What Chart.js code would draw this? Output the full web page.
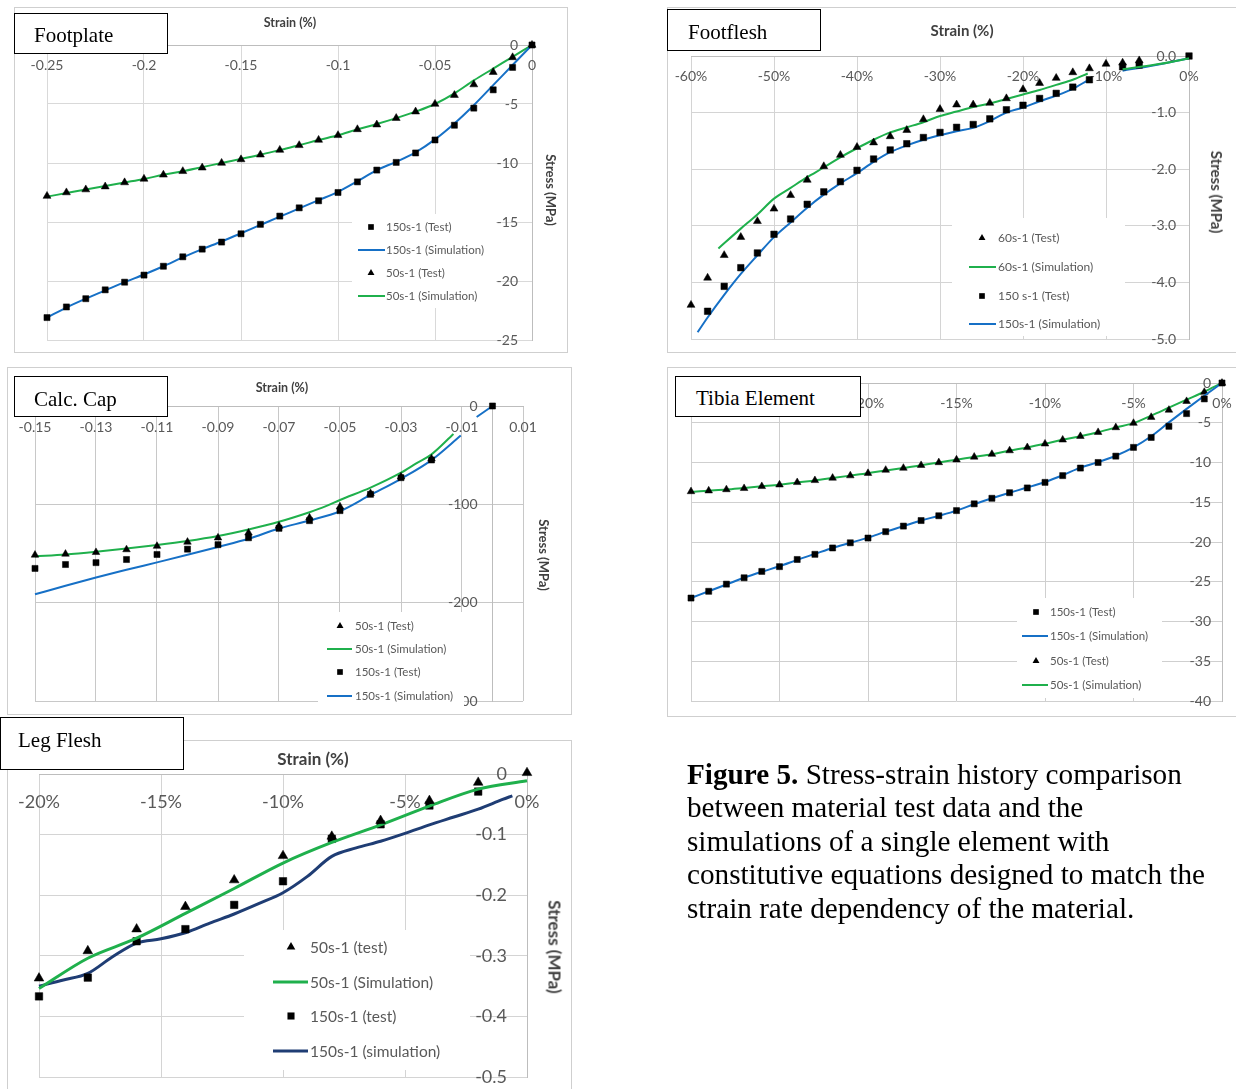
<!DOCTYPE html>
<html>
<head>
<meta charset="utf-8">
<title>Figure 5 - Stress-strain history comparison</title>
<script src="https://cdn.jsdelivr.net/npm/chart.js@4.4.1/dist/chart.umd.min.js"></script>
<style>
    html, body { margin: 0; padding: 0; background: #fff; }
    #page { position: relative; width: 1236px; height: 1089px; overflow: hidden; }
    .panel { position: absolute; border: 1px solid #cfcfcf; box-sizing: border-box; }
    canvas.layer { position: absolute; left: 0; top: 0; }
    .tag {
        position: absolute; box-sizing: border-box; background: #fff; border: 1px solid #000;
        font-family: "Liberation Serif", "Times New Roman", serif; font-size: 21px; line-height: 21px;
        color: #000; white-space: nowrap; overflow: hidden;
    }
    .axis-title {
        position: absolute; font-family: Lato, sans-serif; font-weight: bold; color: #404040;
        white-space: nowrap; transform: translate(-50%, -50%);
    }
    .axis-title.vert { transform: translate(-50%, -50%) rotate(90deg); }
    #caption {
        position: absolute; left: 687px; top: 758px; font-family: "Liberation Serif", "Times New Roman", serif;
        font-size: 29.2px; line-height: 33.4px; color: #000; white-space: nowrap;
    }
</style>
</head>
<body>
<div id="page">
    <div class="panel" style="left:14px;top:7px;width:554px;height:346px"></div>
    <div class="panel" style="left:667px;top:7px;width:580px;height:346px"></div>
    <div class="panel" style="left:7px;top:367px;width:565px;height:348px"></div>
    <div class="panel" style="left:667px;top:367px;width:580px;height:350px"></div>
    <div class="panel" style="left:7px;top:740px;width:565px;height:360px"></div>

    <canvas class="layer" id="footplate" width="1236" height="1089"></canvas>
    <canvas class="layer" id="footflesh" width="1236" height="1089"></canvas>
    <canvas class="layer" id="calccap" width="1236" height="1089"></canvas>
    <canvas class="layer" id="tibia" width="1236" height="1089"></canvas>
    <canvas class="layer" id="legflesh" width="1236" height="1089"></canvas>

    <div class="axis-title" style="left:290px;top:22px;font-size:12.5px">Strain (%)</div>
    <div class="axis-title vert" style="left:551px;top:190px;font-size:13px">Stress (MPa)</div>
    <div class="axis-title" style="left:962px;top:30px;font-size:15px">Strain (%)</div>
    <div class="axis-title vert" style="left:1217px;top:192px;font-size:15px">Stress (MPa)</div>
    <div class="axis-title" style="left:282px;top:387px;font-size:12.5px">Strain (%)</div>
    <div class="axis-title vert" style="left:544px;top:555px;font-size:13px">Stress (MPa)</div>
    <div class="axis-title" style="left:313px;top:758px;font-size:17px">Strain (%)</div>
    <div class="axis-title vert" style="left:555px;top:947px;font-size:17px">Stress (MPa)</div>

    <div class="tag" style="left:14px;top:13px;width:154px;height:41px;padding:11px 0 0 19px">Footplate</div>
    <div class="tag" style="left:667px;top:9px;width:154px;height:42px;padding:12px 0 0 20px">Footflesh</div>
    <div class="tag" style="left:14px;top:376px;width:154px;height:41px;padding:12px 0 0 19px">Calc. Cap</div>
    <div class="tag" style="left:675px;top:376px;width:186px;height:41px;padding:11px 0 0 20px">Tibia Element</div>
    <div class="tag" style="left:0px;top:717px;width:184px;height:53px;padding:12px 0 0 17px">Leg Flesh</div>

    <div id="caption"><b>Figure 5.</b> Stress-strain history comparison<br>between material test data and the<br>simulations of a single element with<br>constitutive equations designed to match the<br>strain rate dependency of the material.</div>
</div>

<script>
// ---- Footplate ----
const fpStrain = [-0.25, -0.24, -0.23, -0.22, -0.21, -0.2, -0.19, -0.18, -0.17, -0.16, -0.15, -0.14, -0.13,
    -0.12, -0.11, -0.1, -0.09, -0.08, -0.07, -0.06, -0.05, -0.04, -0.03, -0.02, -0.01, 0];
const fp150Test = [-23.1, -22.2, -21.5, -20.75, -20.1, -19.5, -18.75, -17.95, -17.3, -16.7, -16.0, -15.2, -14.5,
    -13.8, -13.2, -12.5, -11.6, -10.6, -9.95, -9.15, -8.05, -6.8, -5.35, -3.8, -1.9, 0];
const fp150Sim = [-23.1, -22.25, -21.5, -20.8, -20.1, -19.45, -18.75, -18.0, -17.3, -16.65, -15.95, -15.25, -14.55,
    -13.85, -13.15, -12.45, -11.55, -10.6, -9.9, -9.1, -8.0, -6.65, -5.1, -3.4, -1.7, 0];
const fp50Test = [-12.8, -12.5, -12.25, -12.0, -11.65, -11.35, -11.0, -10.7, -10.4, -10.0, -9.7, -9.3, -8.9,
    -8.5, -8.05, -7.65, -7.15, -6.75, -6.2, -5.65, -5.0, -4.25, -3.35, -2.3, -1.05, 0];
const fp50Sim = [-12.85, -12.55, -12.25, -11.95, -11.65, -11.35, -11.0, -10.7, -10.35, -10.0, -9.65, -9.3, -8.9,
    -8.5, -8.05, -7.65, -7.15, -6.7, -6.2, -5.65, -5.0, -4.1, -3.0, -2.0, -1.0, 0];
const fpStrainTicks = [-0.25, -0.2, -0.15, -0.1, -0.05, 0];
const fpStressTicks = [-25, -20, -15, -10, -5, 0];

// ---- Footflesh (strain in %) ----
const ff60TestStrain = [-60, -58, -56, -54, -52, -50, -48, -46, -44, -42, -40, -38, -36, -34, -32, -30, -28, -26,
    -24, -22, -20, -18, -16, -14, -12, -10, -8, -6];
const ff60Test = [-4.40, -3.92, -3.52, -3.20, -2.92, -2.70, -2.46, -2.19, -1.95, -1.75, -1.61, -1.53, -1.42, -1.31,
    -1.12, -0.94, -0.86, -0.86, -0.83, -0.75, -0.59, -0.48, -0.39, -0.29, -0.22, -0.14, -0.12, -0.08];
const ff150TestStrain = [-58, -56, -54, -52, -50, -48, -46, -44, -42, -40, -38, -36, -34, -32, -30, -28, -26, -24,
    -22, -20, -18, -16, -14, -12, -8, -6, 0];
const ff150Test = [-4.51, -4.07, -3.74, -3.48, -3.15, -2.88, -2.62, -2.40, -2.22, -2.02, -1.82, -1.66, -1.55, -1.44,
    -1.35, -1.26, -1.21, -1.11, -0.95, -0.87, -0.75, -0.66, -0.55, -0.42, -0.19, -0.16, 0];
const ff60SimStrain = [-56.7, -54, -52, -50, -48, -46, -44, -42, -40, -38, -36, -34, -32, -30, -28, -26, -24, -22,
    -20, -18, -16, -14, -12.2, -10, -8, -4, -2, 0];
const ff60Sim = [-3.40, -3.05, -2.80, -2.52, -2.33, -2.14, -1.97, -1.79, -1.63, -1.48, -1.35, -1.26, -1.17, -1.06,
    -0.98, -0.90, -0.84, -0.76, -0.68, -0.60, -0.51, -0.42, -0.31, null, -0.235, -0.15, -0.10, -0.04];
const ff150SimStrain = [-59.2, -58, -56, -54, -52, -50, -48, -46, -44, -42, -40, -38, -36, -34, -32, -30, -28, -26,
    -24, -22, -20, -18, -16, -14, -12.2, -10, -8, -4, 0];
const ff150Sim = [-4.88, -4.62, -4.22, -3.85, -3.52, -3.20, -2.94, -2.68, -2.45, -2.25, -2.07, -1.87, -1.70, -1.58,
    -1.48, -1.40, -1.33, -1.27, -1.15, -1.00, -0.91, -0.80, -0.70, -0.58, -0.43, null, -0.26, -0.16, -0.04];
const ffStrainTicks = [-60, -50, -40, -30, -20, -10, 0];
const ffStressTicks = [-5, -4, -3, -2, -1, 0];

// ---- Calc. Cap ----
const ccTestStrain = [-0.15, -0.14, -0.13, -0.12, -0.11, -0.1, -0.09, -0.08, -0.07, -0.06, -0.05, -0.04, -0.03, -0.02];
const cc50Test = [-151.5, -150.5, -148.8, -146, -142.5, -138.3, -134, -129, -122, -113.6, -102.4, -88.8, -71.9, -53.6];
const cc150TestStrain = [-0.15, -0.14, -0.13, -0.12, -0.11, -0.1, -0.09, -0.08, -0.07, -0.06, -0.05, -0.04, -0.03,
    -0.02, 0];
const cc150Test = [-165.2, -161.2, -159.3, -156.1, -151, -145.6, -141, -134, -124.4, -116.6, -106.4, -89.8, -72.9,
    -54.9, 0];
const cc50SimStrain = [-0.15, -0.14, -0.13, -0.12, -0.11, -0.1, -0.09, -0.08, -0.07, -0.06, -0.055, -0.05, -0.04,
    -0.03, -0.025, -0.02, -0.0128];
const cc50Sim = [-153, -151, -148.2, -145, -141.4, -137.3, -132.2, -125.5, -117.7, -108, -102.4, -95.6, -83, -67.8,
    -58.3, -49.2, -28.5];
const cc150SimStrain = [-0.15, -0.14, -0.13, -0.12, -0.11, -0.1, -0.09, -0.08, -0.07, -0.06, -0.05, -0.04, -0.03,
    -0.02, -0.0104, -0.008, -0.0052, 0];
const cc150Sim = [-191.5, -182.8, -174.4, -166.6, -159, -151.3, -143.3, -135, -124.5, -116.5, -107, -90.5, -74, -55,
    -30, null, -11.2, 0];
const ccStrainTicks = [-0.15, -0.13, -0.11, -0.09, -0.07, -0.05, -0.03, -0.01, 0.01];
const ccStressTicks = [-300, -200, -100, 0];

// ---- Tibia Element (strain in %) ----
const tbStrain = [-30, -29, -28, -27, -26, -25, -24, -23, -22, -21, -20, -19, -18, -17, -16, -15, -14, -13, -12,
    -11, -10, -9, -8, -7, -6, -5, -4, -3, -2, -1, 0];
const tb150Test = [-27.05, -26.2, -25.3, -24.5, -23.7, -23.1, -22.2, -21.55, -20.75, -20.1, -19.5, -18.7, -18.0,
    -17.3, -16.7, -16.05, -15.2, -14.5, -13.8, -13.2, -12.5, -11.65, -10.7, -10.0, -9.2, -8.1, -6.85, -5.45, -3.85,
    -2.0, 0];
const tb150Sim = [-27.05, -26.2, -25.35, -24.5, -23.75, -23.05, -22.25, -21.5, -20.75, -20.1, -19.45, -18.7, -18.0,
    -17.3, -16.7, -16.05, -15.25, -14.5, -13.8, -13.15, -12.45, -11.6, -10.65, -9.95, -9.15, -8.1, -6.7, -4.95,
    -3.25, -1.6, 0];
const tb50Test = [-13.65, -13.55, -13.4, -13.25, -13.0, -12.8, -12.5, -12.25, -11.95, -11.65, -11.35, -10.95, -10.7,
    -10.35, -10.0, -9.65, -9.3, -8.95, -8.5, -8.1, -7.65, -7.15, -6.7, -6.2, -5.6, -5.05, -4.3, -3.4, -2.3, -1.15, 0];
const tb50Sim = [-13.7, -13.55, -13.4, -13.2, -13.0, -12.8, -12.5, -12.25, -11.95, -11.65, -11.35, -11.0, -10.7,
    -10.35, -10.0, -9.65, -9.3, -8.95, -8.5, -8.1, -7.65, -7.15, -6.7, -6.2, -5.6, -5.05, -4.1, -3.1, -2.1, -1.1, 0];
const tbStrainTicks = [-30, -25, -20, -15, -10, -5, 0];
const tbStressTicks = [-40, -35, -30, -25, -20, -15, -10, -5, 0];

// ---- Leg Flesh (strain in %) ----
const lfTestStrain = [-20, -18, -16, -14, -12, -10, -8, -6, -4, -2, 0];
const lf50Test = [-0.337, -0.292, -0.256, -0.219, -0.175, -0.135, -0.103, -0.077, -0.044, -0.014, 0.002];
const lf150TestStrain = [-20, -18, -16, -14, -12, -10, -8, -6, -4, -2];
const lf150Test = [-0.367, -0.336, -0.276, -0.256, -0.216, -0.177, -0.107, -0.083, -0.052, -0.029];
const lf50SimStrain = [-20, -18, -16, -14, -12, -10, -8, -6, -4, -2, 0];
const lf50Sim = [-0.354, -0.304, -0.271, -0.23, -0.189, -0.147, -0.113, -0.084, -0.053, -0.025, -0.011];
const lf150SimStrain = [-20, -19, -18, -17, -16, -15, -14, -13, -12, -11, -10, -9, -8, -7, -6, -5, -4, -3, -2, -1,
    -0.6];
const lf150Sim = [-0.350, -0.340, -0.329, -0.302, -0.279, -0.272, -0.262, -0.246, -0.231, -0.214, -0.196, -0.169,
    -0.136, -0.122, -0.111, -0.098, -0.084, -0.071, -0.058, -0.042, -0.036];
const lfStrainTicks = [-20, -15, -10, -5, 0];
const lfStressTicks = [-0.5, -0.4, -0.3, -0.2, -0.1, 0];

const PAGE_W = 1236, PAGE_H = 1089;
const GREEN = '#1fb04c', BLUE = '#1670c6', NAVY = '#1f3d74';
const LABEL_GREY = '#595959';

// per-canvas decoration settings (kept out of chart options so the formatters are not treated as scriptable)
const decorSpecs = {};

function toPoints(xs, ys) {
    return xs.map((x, i) => ({ x: x, y: ys[i] }));
}

function markerSet(label, xs, ys, style, radius) {
    return {
        label, data: toPoints(xs, ys), showLine: false, pointStyle: style, pointRadius: radius,
        backgroundColor: '#000', borderColor: '#000', pointBorderWidth: 0.5
    };
}

function lineSet(label, xs, ys, color, width) {
    return {
        label, data: toPoints(xs, ys), showLine: true, pointRadius: 0, borderColor: color,
        backgroundColor: color, borderWidth: width, cubicInterpolationMode: 'monotone', spanGaps: false
    };
}

function drawMarker(ctx, style, x, y, r) {
    ctx.fillStyle = '#000';
    ctx.beginPath();
    if (style === 'triangle') {
        ctx.moveTo(x, y - r);
        ctx.lineTo(x + r * 0.866, y + r / 2);
        ctx.lineTo(x - r * 0.866, y + r / 2);
    } else {
        const h = r * Math.SQRT1_2;
        ctx.rect(x - h, y - h, 2 * h, 2 * h);
    }
    ctx.closePath();
    ctx.fill();
}

// tick labels sit inside the plot next to the crossing axes, and the legend sits on a white box
const panelDecor = {
    id: 'panelDecor',
    beforeDatasetsDraw(chart) {
        const o = decorSpecs[chart.canvas.id];
        const ctx = chart.ctx;
        const xs = chart.scales.x, ys = chart.scales.y;
        const axisY = ys.getPixelForValue(0);
        const axisX = xs.getPixelForValue(0);
        ctx.save();
        ctx.fillStyle = LABEL_GREY;
        ctx.font = o.tickSize + 'px Lato, sans-serif';
        ctx.textBaseline = 'middle';
        ctx.textAlign = 'center';
        xs.ticks.forEach(t => ctx.fillText(o.xFmt(t.value), xs.getPixelForValue(t.value), axisY + o.xGap));
        ctx.textAlign = 'right';
        ys.ticks.forEach(t => ctx.fillText(o.yFmt(t.value), axisX - o.yGap, ys.getPixelForValue(t.value)));
        const b = o.legend.box;
        ctx.fillStyle = '#fff';
        ctx.fillRect(b[0], b[1], b[2] - b[0], b[3] - b[1]);
        ctx.restore();
    },
    afterDraw(chart) {
        const lg = decorSpecs[chart.canvas.id].legend;
        const ctx = chart.ctx;
        ctx.save();
        ctx.font = lg.size + 'px Lato, sans-serif';
        ctx.textBaseline = 'middle';
        ctx.textAlign = 'left';
        chart.data.datasets.forEach((ds, i) => {
            const y = lg.rows[i];
            if (ds.showLine === false) {
                drawMarker(ctx, ds.pointStyle, lg.markerX, y, lg.markerR);
            } else {
                ctx.strokeStyle = ds.borderColor;
                ctx.lineWidth = ds.borderWidth;
                ctx.beginPath();
                ctx.moveTo(lg.line[0], y);
                ctx.lineTo(lg.line[1], y);
                ctx.stroke();
            }
            ctx.fillStyle = LABEL_GREY;
            ctx.fillText(ds.label, lg.textX, y + 0.5);
        });
        ctx.restore();
    }
};

function valueAxis(tickValues, crossAt, gridColor) {
    return {
        type: 'linear',
        min: tickValues[0],
        max: tickValues[tickValues.length - 1],
        position: crossAt,
        afterBuildTicks: scale => { scale.ticks = tickValues.map(v => ({ value: v })); },
        ticks: { display: false },
        grid: { color: gridColor, lineWidth: 1, drawTicks: false },
        border: { color: '#bdbdbd', width: 1 }
    };
}

function buildPanel(canvasId, spec) {
    const a = spec.area;
    decorSpecs[canvasId] = spec.decor;
    return new Chart(document.getElementById(canvasId), {
        type: 'scatter',
        data: { datasets: spec.datasets },
        options: {
            responsive: false,
            animation: false,
            devicePixelRatio: 1,
            events: [],
            clip: false,
            layout: { padding: { left: a[0], top: a[1], right: PAGE_W - a[2], bottom: PAGE_H - a[3] } },
            scales: {
                x: valueAxis(spec.xTicks, { y: 0 }, spec.grid),
                y: valueAxis(spec.yTicks, { x: 0 }, spec.grid)
            },
            plugins: {
                legend: { display: false },
                tooltip: { enabled: false }
            }
        },
        plugins: [panelDecor]
    });
}

const pct = v => v + '%';
const plain2 = v => String(+v.toFixed(2));

buildPanel('footplate', {
    area: [47, 45, 532, 340],
    xTicks: fpStrainTicks, yTicks: fpStressTicks, grid: '#d9d9d9',
    datasets: [
        markerSet('150s-1 (Test)', fpStrain, fp150Test, 'rect', 4.3),
        lineSet('150s-1 (Simulation)', fpStrain, fp150Sim, BLUE, 2),
        markerSet('50s-1 (Test)', fpStrain, fp50Test, 'triangle', 4.6),
        lineSet('50s-1 (Simulation)', fpStrain, fp50Sim, GREEN, 2)
    ],
    decor: {
        tickSize: 14, xGap: 20, yGap: 14, xFmt: plain2, yFmt: v => String(v),
        legend: { box: [352, 214, 496, 308], rows: [227, 250, 273, 296], markerX: 371, markerR: 4, textX: 386,
            line: [358, 385], size: 11.5 }
    }
});

buildPanel('footflesh', {
    area: [691, 56, 1189, 339],
    xTicks: ffStrainTicks, yTicks: ffStressTicks, grid: '#d4d4d4',
    datasets: [
        markerSet('60s-1 (Test)', ff60TestStrain, ff60Test, 'triangle', 4.6),
        lineSet('60s-1 (Simulation)', ff60SimStrain, ff60Sim, GREEN, 2),
        markerSet('150 s-1 (Test)', ff150TestStrain, ff150Test, 'rect', 4.6),
        lineSet('150s-1 (Simulation)', ff150SimStrain, ff150Sim, BLUE, 2)
    ],
    decor: {
        tickSize: 14, xGap: 20, yGap: 13, xFmt: pct, yFmt: v => v.toFixed(1),
        legend: { box: [952, 218, 1125, 336], rows: [238, 267, 296, 324], markerX: 982, markerR: 4, textX: 998,
            line: [969, 996], size: 12 }
    }
});

buildPanel('calccap', {
    area: [35, 406, 523, 701],
    xTicks: ccStrainTicks, yTicks: ccStressTicks, grid: '#c8c8c8',
    datasets: [
        markerSet('50s-1 (Test)', ccTestStrain, cc50Test, 'triangle', 4.4),
        lineSet('50s-1 (Simulation)', cc50SimStrain, cc50Sim, GREEN, 2),
        markerSet('150s-1 (Test)', cc150TestStrain, cc150Test, 'rect', 4.3),
        lineSet('150s-1 (Simulation)', cc150SimStrain, cc150Sim, BLUE, 2)
    ],
    decor: {
        tickSize: 14, xGap: 21, yGap: 15, xFmt: plain2, yFmt: v => String(v),
        legend: { box: [318, 612, 464, 712], rows: [626, 649, 672, 696], markerX: 340, markerR: 4, textX: 355,
            line: [327, 352], size: 11.5 }
    }
});

buildPanel('tibia', {
    area: [691, 383, 1222, 701],
    xTicks: tbStrainTicks, yTicks: tbStressTicks, grid: '#cfcfcf',
    datasets: [
        markerSet('150s-1 (Test)', tbStrain, tb150Test, 'rect', 4.3),
        lineSet('150s-1 (Simulation)', tbStrain, tb150Sim, BLUE, 2),
        markerSet('50s-1 (Test)', tbStrain, tb50Test, 'triangle', 4.4),
        lineSet('50s-1 (Simulation)', tbStrain, tb50Sim, GREEN, 2)
    ],
    decor: {
        tickSize: 14, xGap: 20, yGap: 11, xFmt: pct, yFmt: v => String(v),
        legend: { box: [1017, 598, 1162, 698], rows: [612, 636, 661, 685], markerX: 1036, markerR: 4, textX: 1050,
            line: [1022, 1048], size: 11.5 }
    }
});

buildPanel('legflesh', {
    area: [39, 774, 527, 1077],
    xTicks: lfStrainTicks, yTicks: lfStressTicks, grid: '#d4d4d4',
    datasets: [
        markerSet('50s-1 (test)', lfTestStrain, lf50Test, 'triangle', 5.6),
        lineSet('50s-1 (Simulation)', lf50SimStrain, lf50Sim, GREEN, 3),
        markerSet('150s-1 (test)', lf150TestStrain, lf150Test, 'rect', 5.3),
        lineSet('150s-1 (simulation)', lf150SimStrain, lf150Sim, NAVY, 3)
    ],
    decor: {
        tickSize: 18, xGap: 28, yGap: 20, xFmt: pct, yFmt: v => String(+v.toFixed(1)),
        legend: { box: [244, 930, 470, 1070], rows: [947, 982, 1016, 1051], markerX: 291, markerR: 5, textX: 310,
            line: [273, 308], size: 15.5 }
    }
});
</script>
</body>
</html>
